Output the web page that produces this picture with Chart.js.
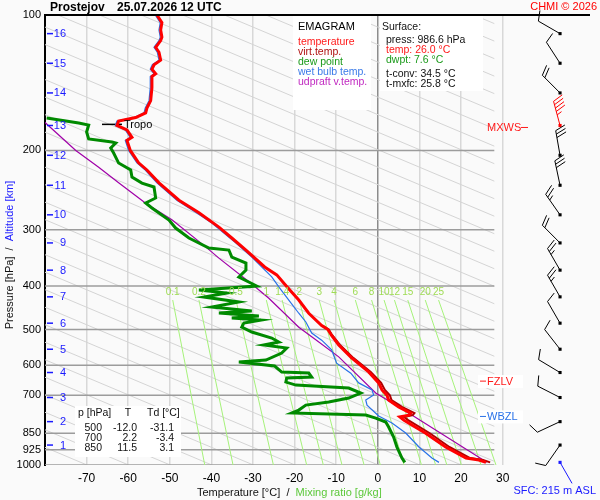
<!DOCTYPE html>
<html>
<head>
<meta charset="utf-8">
<script src="https://cdn.jsdelivr.net/npm/chart.js@4.4.1/dist/chart.umd.min.js"></script>
<style>body{margin:0;background:#fafafa}</style>
</head>
<body>
<canvas id="emagram" width="600" height="500"></canvas>
<script>
// profil teploty (hPa, °C) shora dolu
const tempP = [100,104,108,112,114,118,121,126,129,132,135,137,145,155,161,165,169,172,176,180,187,190,200,213,221,236,258,275,296,313,333,363,378,402,430,460,490,500,514,541,578,621,657,681,700,717,743,767,775,782,795,850,912,965,975,986.6];
const tempT = [-53.1,-51.9,-52.2,-51.9,-52.2,-53.4,-52.6,-52.2,-53.8,-54.3,-53.4,-54.3,-54.3,-54.6,-55.5,-55.8,-58.2,-62.3,-62.7,-60.3,-59.1,-60.3,-59.5,-57.5,-55.5,-52.6,-47.8,-43.0,-38.2,-35.1,-31.7,-27.2,-24.3,-21.8,-19.0,-16.6,-13.5,-12.0,-11.2,-9.4,-6.3,-2.2,0.2,1.0,2.2,2.6,5.0,7.9,7.5,5.3,6.3,11.5,16.3,21.2,24.3,26.0];

// virtualni teplota (jen spodni cast, nahore splyva s teplotou)
const virtP = [490,500,514,541,578,621,657,681,700,717,743,767,775,782,795,850,912,965,975,986.6];
const virtT = [-13.3,-11.8,-11.0,-9.1,-5.9,-1.7,0.8,1.7,2.9,3.3,5.8,8.8,8.4,6.3,7.3,12.5,17.2,22.2,25.3,27.0];

// rosny bod
const dewP = [169.4,173.8,175.6,182.0,188.6,191.6,192.5,197.5,202.6,213.3,221.1,229.1,236.3,241.1,255.1,261.7,268.5,285.5,297.5,313.1,329.5,332.9,345.0,355.8,368.8,382.2,400.2,408.5,414.8,423.4,434.4,445.7,454.9,459.6,466.7,471.5,476.3,483.7,493.6,506.4,522.3,533.1,541.3,549.7,563.9,584.5,590.5,602.7,621.5,624.7,637.6,640.9,654.2,664.3,674.6,692.0,709.9,724.7,735.9,755.0,766.6,774.5,786.5,802.8,823.6,866.9,912.4,965.1,986.6];
const dewT = [-79.6,-71.9,-69.5,-70.0,-69.5,-63.9,-63.0,-64.2,-63.5,-62.3,-59.4,-59.1,-56.7,-53.8,-53.4,-55.8,-54.3,-50.2,-48.6,-45.4,-40.6,-35.8,-35.1,-31.7,-31.7,-33.4,-29.1,-43.0,-36.3,-41.8,-33.4,-39.9,-30.3,-38.2,-28.6,-35.1,-28.1,-32.2,-32.7,-30.3,-25.5,-23.8,-27.4,-21.9,-23.1,-26.9,-33.4,-24.8,-23.1,-16.6,-15.9,-21.9,-22.1,-19.7,-7.0,-4.1,-7.0,-11.8,-17.3,-19.0,-20.7,-2.9,-0.5,1.9,2.6,3.8,4.6,5.8,6.5];

// teplota vlhkeho teplomeru
const wetP = [100,104,108,112,114,118,121,126,129,132,135,137,145,155,161,165,169,172,176,180,187,190,200,213,221,236,258,275,290,321,345,382,402,430,460,481,509,528,555,594,625,657,681,699,717,736,778,807,849,912,965,986.6];
const wetT = [-53.5,-52.3,-52.6,-52.3,-52.6,-53.8,-53.0,-52.6,-54.2,-54.7,-53.8,-54.7,-54.7,-55.0,-55.9,-56.2,-58.6,-62.7,-63.1,-60.7,-59.5,-60.7,-59.9,-57.9,-55.9,-53.1,-48.3,-43.6,-39.9,-34.1,-30.3,-25.5,-23.8,-21.4,-19.0,-17.3,-15.9,-13.5,-11.1,-9.9,-6.5,-4.6,-1.4,-1.0,-2.9,-2.6,0.2,3.4,6.7,9.9,13.0,14.7];

// krivka vystupujici castice
const parcelP = [170,174,200,218,236,262,285,328,347,396,426,494,523,575,692,767,986.6];
const parcelT = [-81.0,-79.8,-72.6,-67.1,-62.3,-55.8,-49.5,-41.3,-38.2,-30.3,-26.2,-19.0,-15.4,-9.4,-0.5,7.5,26.2];

// smesovaci pomer: popisky a teploty na koncich car (430 hPa a 1000 hPa)
const mrLabels = ['0.1','0.2','0.5','1','1.4','2','3','4','6','8','10','12','15','20','25'];
const mrTopT = [-49.3,-43.0,-34.1,-26.8,-23.0,-18.9,-14.1,-10.5,-5.4,-1.5,1.5,4.0,7.2,11.4,14.6];
const mrBotT = [-41.6,-34.8,-25.1,-17.1,-13.1,-8.6,-3.3,0.6,6.3,10.5,13.9,16.6,20.1,24.8,28.4];
const mrTopP = 430, mrBotP = 1000;

// izobary a popisky os
const isobars = [200,300,400,500,600,700,850,925,1000];
const pTicks = [100,200,300,400,500,600,700,850,925,1000];
const tTicks = [-80,-70,-60,-50,-40,-30,-20,-10,0,10,20,30,40,50];

// vysky (km) a odpovidajici tlak, vitr v techto hladinach
const altKm = [1,2,3,4,5,6,7,8,9,10,11,12,13,14,15,16];
const altP = [903,801,708,623,553,484,423,369,321,278,239,205,176,149,128,110];
const windDir = [215,245,297,301,322,330,330,330,315,325,348,350,345,315,327,300];
const windSpd = [10,10,10,10,10,10,25,25,20,25,30,30,45,20,10,10];
const mxwsKm = 13;
const sfcP = 986.6;
const barbT = 43.8;

// tropopauza a hladiny
const tropoP = 175;
const tropoT = [-66.3, -61.5];
const fzlvP = 651;
const wbzlP = 780;

const F = '"Liberation Sans", Arial, sans-serif';
const pts = (P, T) => P.map((p, i) => ({x: T[i], y: p}));

// sikme sede cary na pozadi
const skewSets = [];
for (let c = -336.9; c < 28; c += 10) {
    let end = {x: c + 257, y: 1000};
    if (end.x > 28) end = {x: 28, y: 100 * Math.pow(10, (28 - c) / 257)};
    skewSets.push({data: [{x: c, y: 100}, end], borderColor: '#d4d4d4', borderWidth: 1, order: 10});
}

const isoSets = isobars.map(p => ({
    data: [{x: -80, y: p}, {x: 28, y: p}], borderColor: '#9c9c9c', borderWidth: 1.5, order: 9
}));

const mrSets = mrLabels.map((l, i) => ({
    data: [{x: mrTopT[i], y: mrTopP}, {x: mrBotT[i], y: mrBotP}], borderColor: '#a6f27a', borderWidth: 1, order: 8
}));

const datasets = [
    ...skewSets, ...isoSets, ...mrSets,
    {data: pts([tropoP, tropoP], tropoT), borderColor: '#000', borderWidth: 1.5, order: 5},
    {data: pts(parcelP, parcelT), borderColor: '#a000a8', borderWidth: 1.2, order: 4},
    {data: pts(wetP, wetT), borderColor: '#2a72e8', borderWidth: 1.2, order: 3},
    {data: pts(dewP, dewT), borderColor: '#008a00', borderWidth: 3, order: 2},
    {data: pts(virtP, virtT), borderColor: '#b00000', borderWidth: 2, order: 1.5},
    {data: pts(tempP, tempT), borderColor: '#ff0000', borderWidth: 3, order: 1},
    {
        data: altP.map(p => ({x: barbT, y: p})), showLine: false, order: 0,
        pointStyle: 'rect', pointRadius: 2.2,
        pointBackgroundColor: altKm.map(k => k === mxwsKm ? '#ff0000' : '#000'),
        pointBorderColor: altKm.map(k => k === mxwsKm ? '#ff0000' : '#000'),
        pointBorderWidth: 0
    },
    {
        data: [{x: barbT, y: sfcP}], showLine: false, order: 0,
        pointStyle: 'rect', pointRadius: 2.2, pointBackgroundColor: '#1a1aff', pointBorderWidth: 0
    }
];
datasets.forEach(d => {
    if (d.showLine === undefined) d.showLine = true;
    if (d.pointRadius === undefined) d.pointRadius = 0;
    d.tension = 0;
    d.fill = false;
});

function text(ctx, s, x, y, color, size, align, bold) {
    ctx.font = (bold ? 'bold ' : '') + size + 'px ' + F;
    ctx.fillStyle = color;
    ctx.textAlign = align || 'left';
    ctx.textBaseline = 'middle';
    ctx.fillText(s, x, y);
}

// vetrny prapor
function barb(ctx, x0, y0, dir, spd, color) {
    const r = dir * Math.PI / 180;
    const ux = Math.sin(r), uy = -Math.cos(r);
    const px = -uy, py = ux;
    const L = 25;
    ctx.strokeStyle = color;
    ctx.fillStyle = color;
    ctx.lineWidth = 1;
    ctx.beginPath();
    ctx.moveTo(x0, y0);
    ctx.lineTo(x0 + ux * L, y0 + uy * L);
    ctx.stroke();
    let s = Math.round(spd / 5) * 5, d = L;
    while (s >= 50) {
        const bx = x0 + ux * d, by = y0 + uy * d;
        ctx.beginPath();
        ctx.moveTo(bx, by);
        ctx.lineTo(bx + px * 10 + ux * 2, by + py * 10 + uy * 2);
        ctx.lineTo(bx - ux * 5, by - uy * 5);
        ctx.fill();
        s -= 50; d -= 7;
    }
    while (s >= 10) {
        const bx = x0 + ux * d, by = y0 + uy * d;
        ctx.beginPath();
        ctx.moveTo(bx, by);
        ctx.lineTo(bx + px * 10 + ux * 4, by + py * 10 + uy * 4);
        ctx.stroke();
        s -= 10; d -= 3.5;
    }
    if (s >= 5) {
        if (d === L) d -= 3.5;
        const bx = x0 + ux * d, by = y0 + uy * d;
        ctx.beginPath();
        ctx.moveTo(bx, by);
        ctx.lineTo(bx + px * 5 + ux * 2, by + py * 5 + uy * 2);
        ctx.stroke();
    }
}

function box(ctx, x, y, w, h) {
    ctx.fillStyle = '#ffffff';
    ctx.fillRect(x, y, w, h);
}

const deco = {
    id: 'deco',
    beforeDraw(chart) {
        const ctx = chart.ctx;
        ctx.save();
        ctx.fillStyle = '#fafafa';
        ctx.fillRect(0, 0, chart.width, chart.height);
        ctx.restore();
    },
    afterDraw(chart) {
        const {ctx, chartArea: a} = chart;
        const xs = chart.scales.x, ys = chart.scales.y;
        ctx.save();

        // horni okraj
        ctx.strokeStyle = '#000';
        ctx.lineWidth = 2;
        ctx.beginPath();
        ctx.moveTo(a.left, a.top);
        ctx.lineTo(a.right, a.top);
        ctx.stroke();

        // nadpis
        text(ctx, 'Prostejov', 50, 8, '#000', 12, 'left', true);
        text(ctx, '25.07.2026 12 UTC', 117, 8, '#000', 12, 'left', true);
        text(ctx, 'CHMI © 2026', 597, 7, '#ff0000', 11, 'right');

        // popisky smesovaciho pomeru
        mrLabels.forEach((l, i) => {
            text(ctx, l, xs.getPixelForValue(mrTopT[i]), ys.getPixelForValue(413), '#9fdc55', 10, 'center');
        });

        // vyskove znacky
        ctx.strokeStyle = '#1a1aff';
        ctx.lineWidth = 1.5;
        altKm.forEach((k, i) => {
            const y = ys.getPixelForValue(altP[i]);
            ctx.beginPath();
            ctx.moveTo(a.left + 2, y);
            ctx.lineTo(a.left + 8, y);
            ctx.stroke();
            text(ctx, String(k), a.left + 21, y + 0.5, '#1a1aff', 11, 'right');
        });

        // tropopauza
        text(ctx, 'Tropo', xs.getPixelForValue(tropoT[1]) + 2, ys.getPixelForValue(tropoP) + 1, '#000', 11);

        // legenda
        box(ctx, 293, 16, 78, 94);
        text(ctx, 'EMAGRAM', 298, 27, '#000', 11);
        text(ctx, 'temperature', 298, 42, '#ff1a1a', 10.5);
        text(ctx, 'virt.temp.', 298, 52, '#b01010', 10.5);
        text(ctx, 'dew point', 298, 62, '#1a9a1a', 10.5);
        text(ctx, 'wet bulb temp.', 298, 72, '#3a7ae8', 10.5);
        text(ctx, 'udpraft v.temp.', 298, 82, '#c028c0', 10.5);

        box(ctx, 380, 16, 103, 75);
        text(ctx, 'Surface:', 382, 27, '#111', 10.5);
        text(ctx, 'press: 986.6 hPa', 386, 40, '#111', 10.5);
        text(ctx, 'temp: 26.0 °C', 386, 50, '#ff1a1a', 10.5);
        text(ctx, 'dwpt: 7.6 °C', 386, 60, '#1a9a1a', 10.5);
        text(ctx, 't-conv: 34.5 °C', 386, 74, '#111', 10.5);
        text(ctx, 't-mxfc: 25.8 °C', 386, 84, '#111', 10.5);

        // tabulka hladin
        box(ctx, 75, 406, 106, 51);
        text(ctx, 'p [hPa]', 78, 413, '#111', 10.5);
        text(ctx, 'T', 128, 413, '#111', 10.5, 'center');
        text(ctx, 'Td [°C]', 147, 413, '#111', 10.5);
        const rows = [['500', '-12.0', '-31.1'], ['700', '2.2', '-3.4'], ['850', '11.5', '3.1']];
        rows.forEach((r, i) => {
            const y = 428 + i * 10;
            text(ctx, r[0], 102, y, '#111', 10.5, 'right');
            text(ctx, r[1], 137, y, '#111', 10.5, 'right');
            text(ctx, r[2], 174, y, '#111', 10.5, 'right');
        });

        // vitr
        altKm.forEach((k, i) => {
            const x0 = xs.getPixelForValue(barbT), y0 = ys.getPixelForValue(altP[i]);
            barb(ctx, x0, y0, windDir[i], windSpd[i], k === mxwsKm ? '#ff0000' : '#000');
        });
        const sx = xs.getPixelForValue(barbT), sy = ys.getPixelForValue(sfcP);
        ctx.strokeStyle = '#1a1aff';
        ctx.lineWidth = 1;
        ctx.beginPath();
        ctx.moveTo(sx, sy);
        ctx.lineTo(sx + 12, sy + 21);
        ctx.stroke();
        text(ctx, 'SFC: 215 m ASL', 596, 491, '#1a1aff', 11, 'right');

        // MXWS, FZLV, WBZL
        const mxY = ys.getPixelForValue(altP[altKm.indexOf(mxwsKm)]) + 2;
        text(ctx, 'MXWS', 487, mxY, '#ff1a1a', 11);
        ctx.strokeStyle = '#ff1a1a';
        ctx.beginPath(); ctx.moveTo(521, mxY); ctx.lineTo(528, mxY); ctx.stroke();

        const fy = ys.getPixelForValue(fzlvP);
        box(ctx, 478, fy - 6, 45, 13);
        ctx.beginPath(); ctx.moveTo(480, fy); ctx.lineTo(486, fy); ctx.stroke();
        text(ctx, 'FZLV', 487, fy + 0.5, '#ff1a1a', 11);

        const wy = ys.getPixelForValue(wbzlP);
        box(ctx, 478, wy - 6, 45, 13);
        ctx.strokeStyle = '#2a72e8';
        ctx.beginPath(); ctx.moveTo(480, wy); ctx.lineTo(486, wy); ctx.stroke();
        text(ctx, 'WBZL', 487, wy + 0.5, '#2a72e8', 11);

        // nazvy os
        ctx.font = '11px ' + F;
        const xParts = [['Temperature [°C]  /  ', '#111'], ['Mixing ratio [g/kg]', '#5cc83a']];
        let px = 197;
        xParts.forEach(([s, c]) => { text(ctx, s, px, 493, c, 11); px += ctx.measureText(s).width; });

        const yParts = [['Pressure [hPa]  /  ', '#111'], ['Altitude [km]', '#1a1aff']];
        ctx.font = '11px ' + F;
        const total = yParts.reduce((w, p) => w + ctx.measureText(p[0]).width, 0);
        ctx.translate(10, 255 + total / 2);
        ctx.rotate(-Math.PI / 2);
        let py = 0;
        yParts.forEach(([s, c]) => { text(ctx, s, py, 0, c, 11); py += ctx.measureText(s).width; });

        ctx.restore();
    }
};

new Chart(document.getElementById('emagram'), {
    type: 'scatter',
    data: {datasets},
    options: {
        responsive: false,
        animation: false,
        devicePixelRatio: 1,
        layout: {padding: {top: 15, right: 10, left: 0, bottom: 0}},
        plugins: {legend: {display: false}, tooltip: {enabled: false}},
        scales: {
            x: {
                type: 'linear', min: -80, max: 51,
                afterBuildTicks: s => { s.ticks = tTicks.map(v => ({value: v})); },
                afterFit: s => { s.height = 35; },
                border: {display: false},
                grid: {
                    drawTicks: false, lineWidth: 1.5,
                    color: c => c.tick.value === 0 ? '#8c8c8c' : (c.tick.value >= -70 && c.tick.value <= 30 ? '#d8d8d8' : 'rgba(0,0,0,0)')
                },
                ticks: {
                    padding: 6, color: '#000', font: {family: F, size: 12},
                    callback: v => (v >= -70 && v <= 30) ? String(v) : ''
                }
            },
            y: {
                type: 'logarithmic', reverse: true, min: 100, max: 1000,
                afterBuildTicks: s => { s.ticks = pTicks.map(v => ({value: v})); },
                afterFit: s => { s.width = 45; },
                border: {display: true, color: '#000', width: 2},
                grid: {display: false, drawTicks: false},
                ticks: {
                    padding: 4, autoSkip: false, color: '#000', font: {family: F, size: 11},
                    callback: v => String(v)
                }
            }
        }
    },
    plugins: [deco]
});
</script>
</body>
</html>
